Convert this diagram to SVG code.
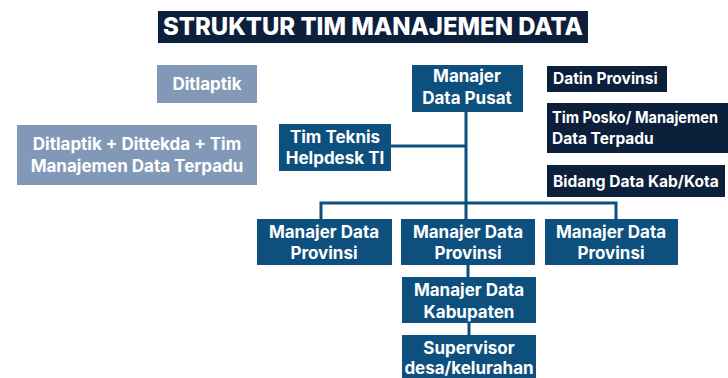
<svg xmlns="http://www.w3.org/2000/svg" width="728" height="378" viewBox="0 0 728 378">
<style>
.t{font-family:Inter,"Liberation Sans",sans-serif;font-weight:700;fill:#fff;font-size:17px;text-anchor:middle}
.l{text-anchor:start;font-size:15.5px}
.mid{fill:#0d4f7d}
.navy{fill:#0c1f3b}
.gray{fill:#8199b6}
.c{stroke:#0d4f7d;stroke-width:3;fill:none}
</style>
<rect width="728" height="378" fill="#fff"/>
<g id="title">
<rect class="navy" x="158" y="11" width="430" height="32"/>
<text class="t" x="373" y="35" textLength="420" lengthAdjust="spacingAndGlyphs" style="font-size:24px;font-weight:800">STRUKTUR TIM MANAJEMEN DATA</text>
</g>
<g id="connectors">
<path class="c" d="M466,112 V219 M391,146 H466 M321,219 V203 H616 V219 M468,265 V277 M469,323 V335"/>
</g>
<g id="ditlaptik">
<rect class="gray" x="157" y="65" width="100" height="38"/>
<text class="t" x="207" y="90">Ditlaptik</text>
</g>
<g id="ditlaptik-gabungan">
<rect class="gray" x="17" y="125" width="240" height="60"/>
<text class="t" x="137" y="150">Ditlaptik + Dittekda + Tim</text>
<text class="t" x="137" y="172">Manajemen Data Terpadu</text>
</g>
<g id="manajer-pusat">
<rect class="mid" x="412" y="65" width="111" height="47"/>
<text class="t" x="467" y="82">Manajer</text>
<text class="t" x="467" y="104">Data Pusat</text>
</g>
<g id="tim-teknis">
<rect class="mid" x="279" y="124" width="112" height="47"/>
<text class="t" x="335" y="143">Tim Teknis</text>
<text class="t" x="335" y="164">Helpdesk TI</text>
</g>
<g id="datin">
<rect class="navy" x="547" y="66" width="120" height="26"/>
<text class="t l" x="553" y="84">Datin Provinsi</text>
</g>
<g id="tim-posko">
<rect class="navy" x="547" y="103" width="181" height="50"/>
<text class="t l" x="552" y="123" textLength="166" lengthAdjust="spacingAndGlyphs">Tim Posko/ Manajemen</text>
<text class="t l" x="552" y="144">Data Terpadu</text>
</g>
<g id="bidang-data">
<rect class="navy" x="547" y="165" width="178" height="32"/>
<text class="t l" x="553" y="187">Bidang Data Kab/Kota</text>
</g>
<g id="prov1">
<rect class="mid" x="257" y="219" width="135" height="46"/>
<text class="t" x="324" y="238">Manajer Data</text>
<text class="t" x="324" y="259">Provinsi</text>
</g>
<g id="prov2">
<rect class="mid" x="401" y="219" width="134" height="46"/>
<text class="t" x="468" y="238">Manajer Data</text>
<text class="t" x="468" y="259">Provinsi</text>
</g>
<g id="prov3">
<rect class="mid" x="545" y="219" width="133" height="46"/>
<text class="t" x="611" y="238">Manajer Data</text>
<text class="t" x="611" y="259">Provinsi</text>
</g>
<g id="kabupaten">
<rect class="mid" x="402" y="277" width="134" height="46"/>
<text class="t" x="469" y="296">Manajer Data</text>
<text class="t" x="469" y="318">Kabupaten</text>
</g>
<g id="supervisor">
<rect class="mid" x="402" y="335" width="134" height="43"/>
<text class="t" x="469" y="354">Supervisor</text>
<text class="t" x="469" y="374">desa/kelurahan</text>
</g>
</svg>
